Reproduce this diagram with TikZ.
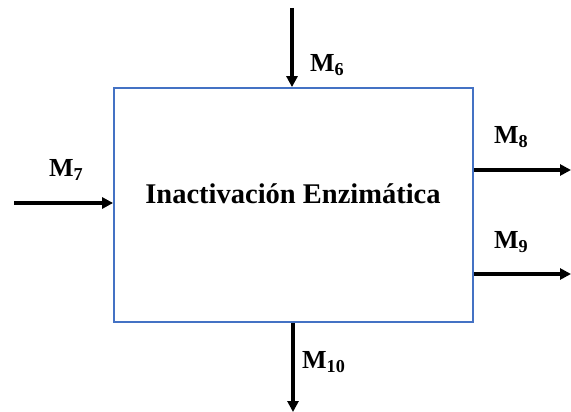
\documentclass[tikz,border=0pt]{standalone}
\usepackage{fontspec}
\setmainfont{Liberation Serif}
\usetikzlibrary{arrows.meta}
\definecolor{boxblue}{HTML}{4472C4}
\tikzset{
  flow/.style={line width=3.2pt,-{Triangle[length=11pt,width=11pt]}},
  lbl/.style={font=\fontsize{26}{28}\selectfont\bfseries,inner sep=0pt,anchor=west},
}
\begin{document}
\begin{tikzpicture}[x=1pt,y=-1pt]
\useasboundingbox (0,0) rectangle (571,412);
\node[draw=boxblue,line width=1.8pt,minimum width=359pt,minimum height=234pt,inner sep=0pt] (box) at (293.5,205) {};
\node[font=\fontsize{28.5}{30}\selectfont\bfseries,inner sep=0pt] (title) at (293,194) {Inactivación Enzimática};
\coordinate (in6) at (292,8);
\coordinate (in7) at (14,203);
\coordinate (out8) at (571,170);
\coordinate (out9) at (571,274);
\coordinate (out10) at (293,412);
\draw[flow] (in6) -- (in6 |- box.north);
\draw[flow] (in7) -- (in7 -| box.west);
\draw[flow] (out8 -| box.east) -- (out8);
\draw[flow] (out9 -| box.east) -- (out9);
\draw[flow] (out10 |- box.south) -- (out10);
\node[lbl] (m6) at (310,65) {M\textsubscript{6}};
\node[lbl] (m7) at (49,170) {M\textsubscript{7}};
\node[lbl] (m8) at (494,137) {M\textsubscript{8}};
\node[lbl] (m9) at (494,242) {M\textsubscript{9}};
\node[lbl] (m10) at (302,362) {M\textsubscript{10}};
\end{tikzpicture}
\end{document}
